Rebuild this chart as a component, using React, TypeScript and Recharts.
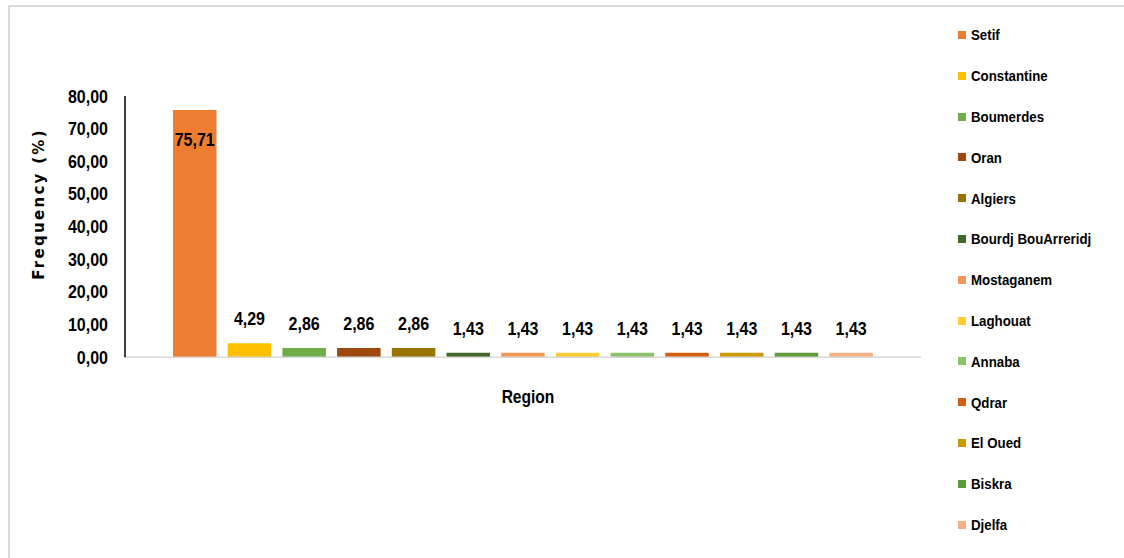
import React from "react";
import { BarChart, Bar, XAxis, YAxis, Legend, LabelList } from "recharts";

const regions = [
  "Setif",
  "Constantine",
  "Boumerdes",
  "Oran",
  "Algiers",
  "Bourdj BouArreridj",
  "Mostaganem",
  "Laghouat",
  "Annaba",
  "Qdrar",
  "El Oued",
  "Biskra",
  "Djelfa",
];
const frequencies = [75.71, 4.29, 2.86, 2.86, 2.86, 1.43, 1.43, 1.43, 1.43, 1.43, 1.43, 1.43, 1.43];
const colors = [
  "#ED7D31",
  "#FFC000",
  "#70AD47",
  "#9E480E",
  "#997300",
  "#43682B",
  "#F1975A",
  "#FFCD33",
  "#8CC168",
  "#D26012",
  "#CC9A06",
  "#5F9A3B",
  "#F4B183",
];
const yTicks = [0, 10, 20, 30, 40, 50, 60, 70, 80];

// Calibri isn't available, so squeeze Liberation Sans Bold a bit to get the same look
const FONT = '"Liberation Sans", Arial, sans-serif';
const SQ = 0.89;

const row: Record<string, any> = { name: "Region" };
regions.forEach((r, i) => (row[r] = frequencies[i]));
const data = [row];

const fmt = (v: number) => v.toFixed(2).replace(".", ",");

const Squeezed = ({ x, y, anchor = "middle", size = 18, sx = SQ, children }: any) => (
  <text
    transform={`translate(${x},${y}) scale(${sx},1)`}
    x={0}
    y={0}
    textAnchor={anchor}
    fontFamily={FONT}
    fontWeight="bold"
    fontSize={size}
    fill="#000"
  >
    {children}
  </text>
);

const BarValue = (props: any) => {
  const { x, y, width, value } = props;
  const inside = value > 50;
  return (
    <Squeezed x={x + width / 2} y={inside ? y + 35.5 : y - 18}>
      {fmt(value)}
    </Squeezed>
  );
};

const YTick = (props: any) => {
  const { x, y, payload } = props;
  return (
    <Squeezed x={x} y={y + 6.5} anchor="end">
      {fmt(payload.value)}
    </Squeezed>
  );
};

const LegendList = () => (
  <div style={{ fontFamily: FONT, fontWeight: "bold", fontSize: 15, color: "#000" }}>
    {regions.map((r, i) => (
      <div key={r} style={{ height: 40.8, display: "flex", alignItems: "center" }}>
        <span style={{ width: 8, height: 8, background: colors[i], marginRight: 5, flexShrink: 0 }} />
        <span style={{ whiteSpace: "nowrap", display: "inline-block", transform: "scaleX(0.885)", transformOrigin: "left center" }}>
          {r}
        </span>
      </div>
    ))}
  </div>
);

export default function App() {
  return (
    <div style={{ position: "absolute", left: 0, top: 0, width: 1124, height: 558, background: "#fff", overflow: "hidden" }}>
      <div
        style={{
          position: "absolute",
          left: 8,
          top: 5,
          width: 1200,
          height: 600,
          borderLeft: "2px solid #d9d9d9",
          borderTop: "2px solid #d9d9d9",
        }}
      />
      <div style={{ position: "absolute", left: 0, top: 0 }}>
        <BarChart
          width={1124}
          height={558}
          data={data}
          margin={{ top: 96, right: 203, bottom: 140.7, left: 0 }}
          barSize={43.5}
          barGap={11.2}
        >
          <XAxis
            dataKey="name"
            tick={false}
            tickLine={false}
            height={60}
            axisLine={{ stroke: "#d9d9d9", strokeWidth: 1.5 }}
            label={(p: any) => {
              const vb = p.viewBox;
              return (
                <Squeezed x={vb.x + vb.width / 2 + 5} y={vb.y + 46} size={19} sx={0.82}>
                  Region
                </Squeezed>
              );
            }}
          />
          <XAxis
            xAxisId="top"
            orientation="top"
            dataKey="name"
            height={0}
            tick={false}
            tickLine={false}
            axisLine={{ stroke: "#000", strokeWidth: 1.5 }}
          />
          <YAxis
            width={125}
            domain={[0, 80]}
            ticks={yTicks}
            interval={0}
            tickLine={false}
            tickSize={6}
            tickMargin={11}
            axisLine={{ stroke: "#000", strokeWidth: 1.5 }}
            tick={<YTick />}
            label={() => (
              <text
                x={39}
                y={204}
                transform="rotate(-90 39 204)"
                textAnchor="middle"
                dominantBaseline="central"
                fontFamily='"DejaVu Sans", sans-serif'
                fontWeight="bold"
                fontSize={15}
                letterSpacing={2.3}
                fill="#000"
              >
                Frequency (%)
              </text>
            )}
          />
          <YAxis
            yAxisId="right"
            orientation="right"
            width={0}
            domain={[0, 80]}
            tick={false}
            tickLine={false}
            axisLine={{ stroke: "#000", strokeWidth: 1.5 }}
          />
          <Legend
            layout="vertical"
            align="center"
            verticalAlign="middle"
            content={<LegendList />}
            wrapperStyle={{ left: 958, top: 14.6, width: 160 }}
          />
          {regions.map((r, i) => (
            <Bar key={r} dataKey={r} name={r} fill={colors[i]} isAnimationActive={false}>
              <LabelList dataKey={r} content={<BarValue />} />
            </Bar>
          ))}
        </BarChart>
      </div>
    </div>
  );
}
